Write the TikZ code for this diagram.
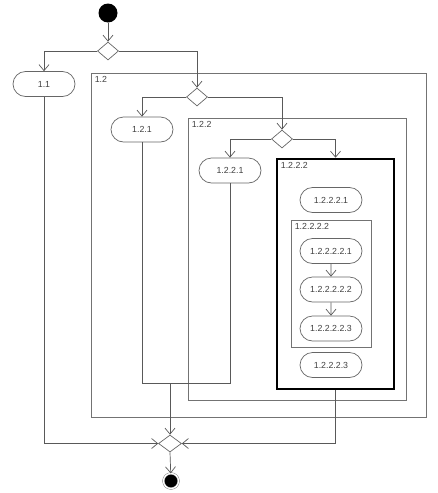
\documentclass[tikz,border=0pt]{standalone}
\usepackage{fontspec}
\setmainfont{Liberation Sans}
\usetikzlibrary{arrows.meta,positioning,shapes.geometric,shapes.misc}

\begin{document}
\begin{tikzpicture}[
  x=1pt, y=-1pt,
  every node/.style={font=\fontsize{8.8}{10}\selectfont, text=black!75, inner sep=1pt},
  act/.style={rounded rectangle, draw=black!60, line width=0.7pt, minimum width=64pt, minimum height=25pt},
  choice/.style={diamond, draw=black!60, line width=0.7pt, minimum width=21pt, minimum height=18pt, inner sep=0pt},
  frame/.style={rectangle, draw=black!55, line width=0.7pt, inner sep=0pt},
  flow/.style={draw=black!65, line width=0.7pt},
  >={Straight Barb[length=6pt,width=10pt]}
]
\useasboundingbox (0,0) rectangle (437,493);

\node[frame, minimum width=335pt, minimum height=344pt] (f12) at (258.5,245) {};
\node[frame, minimum width=218pt, minimum height=282pt] (f122) at (297,259) {};
\node[frame, draw=black, line width=2.6pt, minimum width=117pt, minimum height=230pt] (f1222) at (335.5,274) {};
\node[frame, minimum width=80pt, minimum height=127pt] (f12222) at (331,283.5) {};
\node[anchor=north west] at ([xshift=3pt,yshift=-3pt]f12.north west) {1.2};
\node[anchor=north west] at ([xshift=3pt,yshift=-3pt]f122.north west) {1.2.2};
\node[anchor=north west] at ([xshift=4pt,yshift=-3pt]f1222.north west) {1.2.2.2};
\node[anchor=north west] at ([xshift=3pt,yshift=-3pt]f12222.north west) {1.2.2.2.2};

\node[circle, fill=black, minimum size=19pt] (start) at (108,13) {};
\node[choice] (d1) at (108,51) {};
\node[act] (a11) at (44,84) {1.1};
\node[choice] (d2) at (197,97) {};
\node[act] (a121) at (142,129.5) {1.2.1};
\node[choice] (d3) at (282,139) {};
\node[act] (a1221) at (230,170.5) {1.2.2.1};
\node[act] (a12221) at (331,200) {1.2.2.2.1};
\node[act] (a122221) at (331,251) {1.2.2.2.2.1};
\node[act] (a122222) at (331,289.5) {1.2.2.2.2.2};
\node[act] (a122223) at (331,328.5) {1.2.2.2.2.3};
\node[act] (a12223) at (331,365) {1.2.2.2.3};
\node[choice, minimum width=23pt, minimum height=17pt] (d4) at (170,443.5) {};
\node[circle, fill=black, draw=black!60, double=white, double distance=1.4pt, minimum size=15pt] (end) at (171,481) {};
\coordinate (j) at (170,383);

\draw[flow, ->] (start) -- (d1);
\draw[flow, ->] (d1.west) -| (a11.north);
\draw[flow, ->] (d1.east) -| (d2.north);
\draw[flow, ->] (d2.west) -| (a121.north);
\draw[flow, ->] (d2.east) -| (d3.north);
\draw[flow, ->] (d3.west) -| (a1221.north);
\draw[flow, ->] (d3.east) -| (f1222.north);
\draw[flow, ->] (a122221) -- (a122222);
\draw[flow, ->] (a122222) -- (a122223);
\draw[flow] (a121.south) |- (j);
\draw[flow] (a1221.south) |- (j);
\draw[flow, ->] (j) -- (d4.north);
\draw[flow, ->] (a11.south) |- (d4.west);
\draw[flow, ->] (f1222.south) |- (d4.east);
\draw[flow, ->] (d4.south) -- (end);
\end{tikzpicture}
\end{document}
